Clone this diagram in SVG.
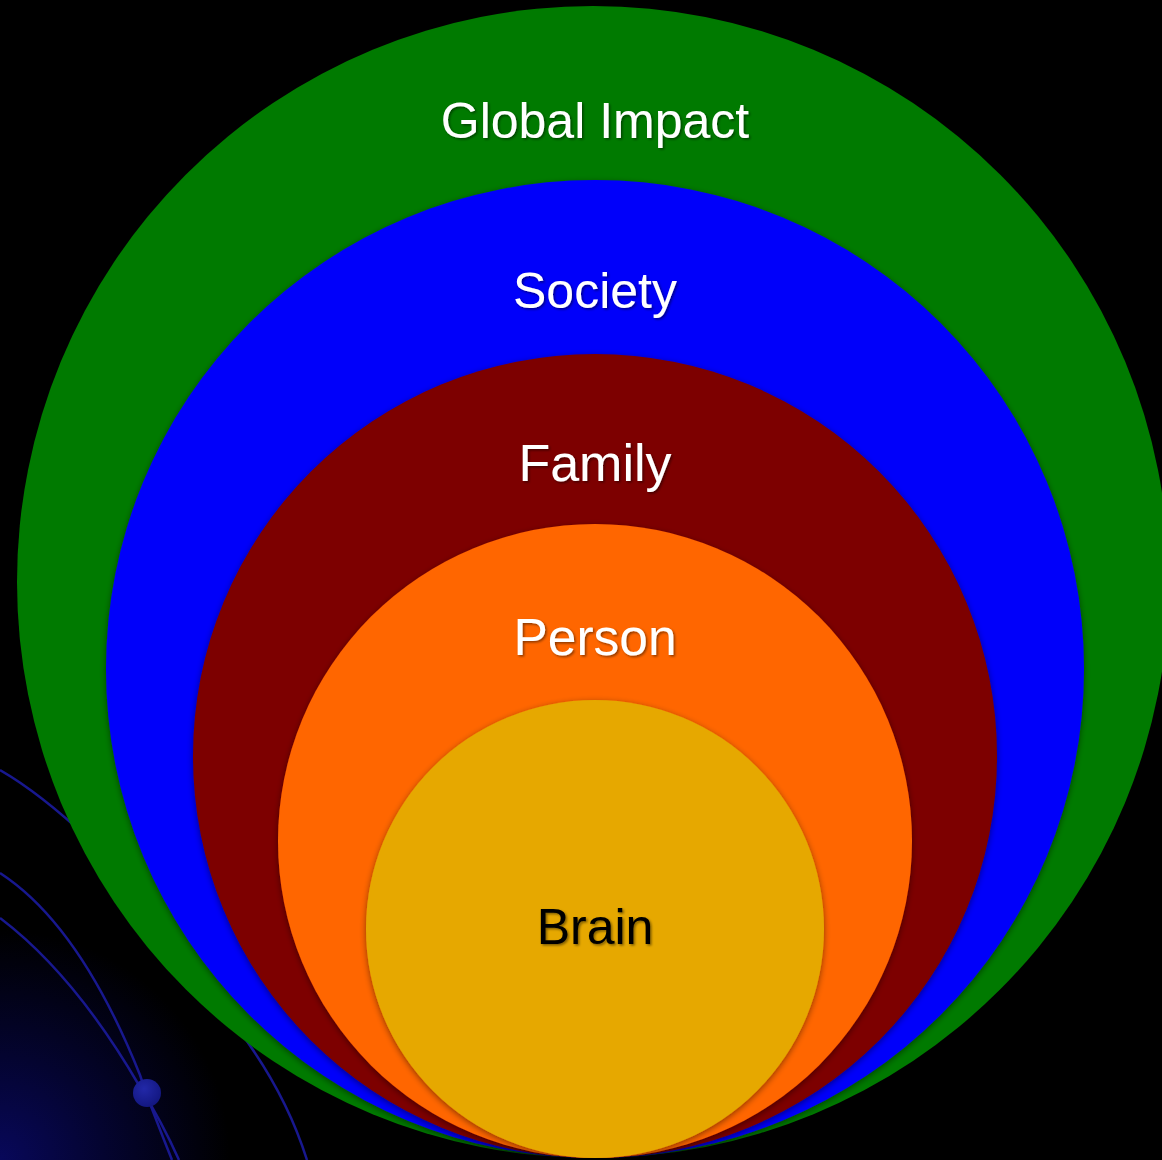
<svg xmlns="http://www.w3.org/2000/svg" width="1162" height="1160" viewBox="0 0 1162 1160">
  <defs>
    <radialGradient id="glow" cx="0" cy="1160" r="230" gradientUnits="userSpaceOnUse">
      <stop offset="0" stop-color="#08085a"/>
      <stop offset="0.45" stop-color="#040430"/>
      <stop offset="1" stop-color="#000000"/>
    </radialGradient>
    <radialGradient id="ball" cx="0.4" cy="0.35" r="0.7">
      <stop offset="0" stop-color="#2228a8"/>
      <stop offset="1" stop-color="#12167e"/>
    </radialGradient>
    <filter id="shadow" x="-10%" y="-10%" width="120%" height="120%">
      <feDropShadow dx="0" dy="2" stdDeviation="3" flood-color="#000" flood-opacity="0.45"/>
    </filter>
    <filter id="tshadow" x="-10%" y="-20%" width="120%" height="140%">
      <feDropShadow dx="1.5" dy="1.5" stdDeviation="1" flood-color="#000" flood-opacity="0.45"/>
    </filter>
    <style>
      .orbit { fill: none; stroke: #18188e; stroke-width: 2.5; }
      .label { font-family: "Liberation Sans", Arial, sans-serif; font-size: 50px; text-anchor: middle; filter: url(#tshadow); }
      .white { fill: #ffffff; }
      .black { fill: #000000; }
    </style>
  </defs>

  <rect x="0" y="0" width="1162" height="1160" fill="#000000"/>
  <rect x="0" y="900" width="260" height="260" fill="url(#glow)"/>

  <g id="connectors">
    <path class="orbit" d="M0,770 Q40,793 90,840"/>
    <path class="orbit" d="M0,873 Q80,925 140,1075 L146,1093 Q158,1125 172,1160"/>
    <path class="orbit" d="M0,918 Q75,975 140,1087 Q162,1122 179,1160"/>
    <path class="orbit" d="M235,1025 Q285,1090 307,1160"/>
    <circle cx="147" cy="1093" r="14" fill="url(#ball)"/>
  </g>

  <g id="global-impact">
    <circle cx="593" cy="582" r="576" fill="#007a00"/>
    <text class="label white" x="595" y="138">Global Impact</text>
  </g>
  <g id="society">
    <circle cx="595" cy="669" r="489" fill="#0000fa" filter="url(#shadow)"/>
    <text class="label white" x="595" y="308">Society</text>
  </g>
  <g id="family">
    <circle cx="595" cy="756" r="402" fill="#7d0000" filter="url(#shadow)"/>
    <text class="label white" x="595" y="481" style="font-size:52px">Family</text>
  </g>
  <g id="person">
    <circle cx="595" cy="841" r="317" fill="#ff6600" filter="url(#shadow)"/>
    <text class="label white" x="595" y="655" style="font-size:51.5px">Person</text>
  </g>
  <g id="brain">
    <circle cx="595" cy="929" r="229" fill="#e6a800" filter="url(#shadow)"/>
    <text class="label black" x="595" y="944">Brain</text>
  </g>
</svg>
